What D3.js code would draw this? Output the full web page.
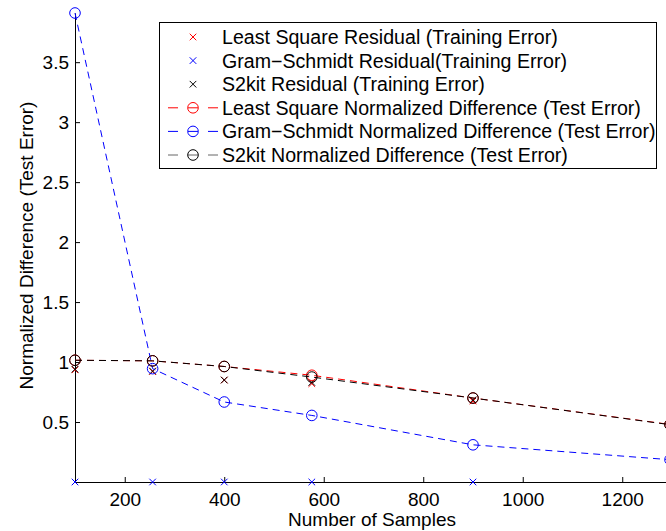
<!DOCTYPE html>
<html>
<head>
<meta charset="utf-8">
<script src="https://cdn.jsdelivr.net/npm/d3@7"></script>
<style>
  body { margin: 0; background: #fff; }
  svg { font-family: "Liberation Sans", Arial, sans-serif; }
</style>
</head>
<body>
<svg id="plot" width="666" height="531"></svg>
<script>
// Sample counts (x values)
const samples = [100, 256, 400, 576, 900, 1296];

// Training error (residuals)
const lsResidual = [0.935, 0.92, 0.85, 0.82, 0.675, 0.47];
const gsResidual = [0.0, 0.0, 0.0, 0.0, 0.0, 0.0];
const s2Residual = [0.94, 0.925, 0.85, 0.83, 0.685, 0.475];

// Test error (normalized differences)
const lsNormDiff = [1.015, 1.01, 0.963, 0.89, 0.70, 0.48];
const gsNormDiff = [3.91, 0.945, 0.667, 0.555, 0.31, 0.186];
const s2NormDiff = [1.015, 1.01, 0.963, 0.875, 0.70, 0.478];

const xTicks = [200, 400, 600, 800, 1000, 1200];
const yTicks = [0.5, 1, 1.5, 2, 2.5, 3, 3.5];

const legendLabels = [
    "Least Square Residual (Training Error)",
    "Gram\u2212Schmidt Residual(Training Error)",
    "S2kit Residual (Training Error)",
    "Least Square Normalized Difference (Test Error)",
    "Gram\u2212Schmidt Normalized Difference (Test Error)",
    "S2kit Normalized Difference (Test Error)"
];

const svg = d3.select("#plot");
const fontSize = 19;
const legendFontSize = 19.6;

// Plot area (right side runs past the window, like the cropped original)
const x = d3.scaleLinear().domain([100, 1296]).range([75, 670]);
const y = d3.scaleLinear().domain([0, 3.91]).range([482, 13]);

// Axes drawn by d3, ticks pointing inwards
const xAxis = svg.append("g")
    .attr("transform", "translate(0," + y(0) + ")")
    .call(d3.axisBottom(x).tickValues(xTicks).tickSize(-5).tickPadding(10.5)
        .tickFormat(d3.format("d")).tickSizeOuter(0));
const yAxis = svg.append("g")
    .attr("transform", "translate(" + x(100) + ",0)")
    .call(d3.axisLeft(y).tickValues(yTicks).tickSize(-5).tickPadding(6)
        .tickFormat(d => String(d)).tickSizeOuter(0));

[xAxis, yAxis].forEach(function (g) {
    g.selectAll("text").attr("font-size", fontSize + "px").attr("fill", "#000")
        .attr("font-family", "Liberation Sans, Arial, sans-serif");
    g.selectAll("line").attr("stroke", "#000");
    g.select(".domain").attr("stroke", "#000");
});

// Axis labels
svg.append("text")
    .attr("x", 372).attr("y", 526)
    .attr("text-anchor", "middle")
    .attr("font-size", fontSize + "px")
    .text("Number of Samples");
svg.append("text")
    .attr("transform", "translate(33,245.5) rotate(-90)")
    .attr("text-anchor", "middle")
    .attr("font-size", fontSize + "px")
    .text("Normalized Difference (Test Error)");

const line = d3.line().x((d, i) => x(samples[i])).y(d => y(d));

function drawCrosses(values, color) {
    svg.append("g").selectAll("path")
        .data(values)
        .enter()
        .append("path")
        .attr("d", d3.symbol().type(d3.symbolTimes).size(30))
        .attr("transform", (d, i) => "translate(" + x(samples[i]) + "," + y(d) + ")")
        .attr("fill", "none")
        .attr("stroke", color)
        .attr("stroke-width", 1);
}

function drawDashed(values, color) {
    svg.append("path")
        .datum(values)
        .attr("d", line)
        .attr("fill", "none")
        .attr("stroke", color)
        .attr("stroke-width", 1)
        .attr("stroke-dasharray", "7,5");
    svg.append("g").selectAll("circle")
        .data(values)
        .enter()
        .append("circle")
        .attr("cx", (d, i) => x(samples[i]))
        .attr("cy", d => y(d))
        .attr("r", 5.3)
        .attr("fill", "none")
        .attr("stroke", color)
        .attr("stroke-width", 1);
}

// Series in plotting order
drawCrosses(lsResidual, "#ff0000");
drawCrosses(gsResidual, "#0000ff");
drawCrosses(s2Residual, "#000000");
drawDashed(lsNormDiff, "#ff0000");
drawDashed(gsNormDiff, "#0000ff");
drawDashed(s2NormDiff, "#000000");

// Legend
const legend = svg.append("g");
legend.append("rect")
    .attr("x", 159.5).attr("y", 22.5)
    .attr("width", 497).attr("height", 146)
    .attr("fill", "#fff")
    .attr("stroke", "#000")
    .attr("stroke-width", 1);

const legendColors = ["#ff0000", "#0000ff", "#000000", "#ff0000", "#0000ff", "#000000"];
legendLabels.forEach(function (label, i) {
    const ry = 37 + i * 23.6;
    const color = legendColors[i];
    if (i < 3) {
        legend.append("path")
            .attr("d", d3.symbol().type(d3.symbolTimes).size(30))
            .attr("transform", "translate(193," + ry + ")")
            .attr("fill", "none")
            .attr("stroke", color);
    } else {
        legend.append("line")
            .attr("x1", 168).attr("x2", 218)
            .attr("y1", ry).attr("y2", ry)
            .attr("stroke", color === "#000000" ? "#666" : color)
            .attr("stroke-dasharray", "10,10");
        legend.append("circle")
            .attr("cx", 193).attr("cy", ry).attr("r", 5.3)
            .attr("fill", "none").attr("stroke", color);
    }
    legend.append("text")
        .attr("x", 222).attr("y", ry)
        .attr("dy", "0.36em")
        .attr("font-size", legendFontSize + "px")
        .text(label);
});
</script>
</body>
</html>
